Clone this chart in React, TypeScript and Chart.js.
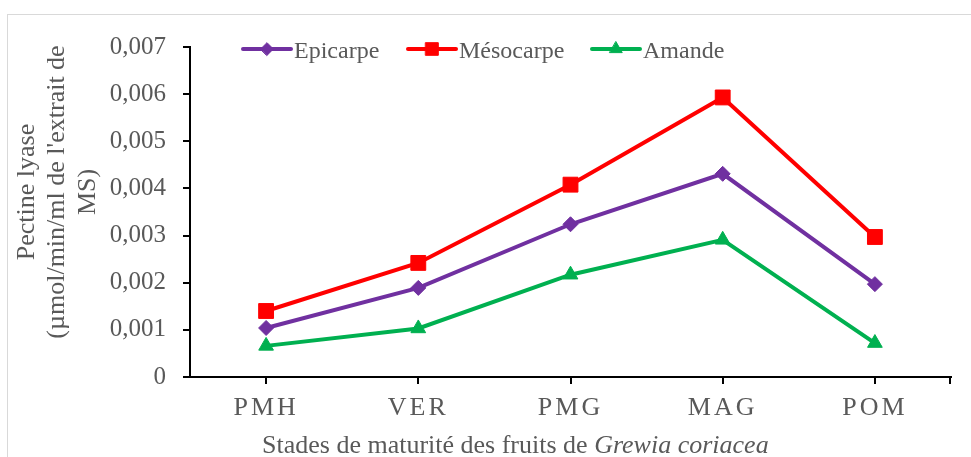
import React, { useEffect, useRef } from 'react';
import { Chart, registerables } from 'chart.js';
import { drawPoint } from 'chart.js/helpers';

Chart.register(...registerables);

const categories = ['PMH', 'VER', 'PMG', 'MAG', 'POM'];
const epicarpe = [0.00104, 0.00189, 0.00324, 0.00431, 0.00197];
const mesocarpe = [0.0014, 0.00242, 0.00408, 0.00593, 0.00297];
const amande = [0.00066, 0.00103, 0.00217, 0.00291, 0.00072];
const seriesNames = ['Epicarpe', 'Mésocarpe', 'Amande'];
const seriesColors = ['#7030A0', '#FF0000', '#00B050'];
const seriesStyles = ['rectRot', 'rect', 'triangle'];
const seriesRadii = [7.5, 10.5, 8.5];
const yTickLabels = ['0', '0,001', '0,002', '0,003', '0,004', '0,005', '0,006', '0,007'];
const yTitleLines = ['Pectine lyase', "(µmol/min/ml de l'extrait de", 'MS)'];
const xTitleNormal = 'Stades de maturité des fruits de ';
const xTitleItalic = 'Grewia coriacea';

const FONT = '"Liberation Serif", "Times New Roman", serif';
const TEXT = '#595959';

const decorPlugin = {
  id: 'decor',
  beforeDraw(chart: any) {
    chart.ctx.letterSpacing = '0px';
  },
  afterDatasetsDraw(chart: any) {
    chart.ctx.letterSpacing = '3px';
  },
  afterDraw(chart: any) {
    const ctx = chart.ctx;
    ctx.letterSpacing = '0px';
    ctx.save();
    const { right, bottom } = chart.chartArea;
    // end tick on x axis
    ctx.strokeStyle = '#000';
    ctx.lineWidth = 2;
    ctx.beginPath();
    ctx.moveTo(right - 1, bottom);
    ctx.lineTo(right - 1, bottom + 7);
    ctx.stroke();

    // legend
    const legendX = [243, 408, 592];
    const legendY = 49;
    ctx.font = `24px ${FONT}`;
    ctx.textBaseline = 'alphabetic';
    ctx.textAlign = 'left';
    seriesNames.forEach((name, i) => {
      const x0 = legendX[i];
      ctx.strokeStyle = seriesColors[i];
      ctx.lineWidth = 4;
      ctx.lineCap = 'round';
      ctx.beginPath();
      ctx.moveTo(x0, legendY);
      ctx.lineTo(x0 + 48, legendY);
      ctx.stroke();
      ctx.fillStyle = seriesColors[i];
      ctx.strokeStyle = seriesColors[i];
      ctx.lineWidth = 1;
      drawPoint(ctx, { pointStyle: seriesStyles[i], radius: seriesRadii[i] * 0.85, rotation: 0, borderWidth: 1 }, x0 + 24, legendY);
      ctx.fillStyle = TEXT;
      ctx.fillText(name, x0 + 51, 58);
    });

    // x title
    ctx.fillStyle = TEXT;
    ctx.font = `26px ${FONT}`;
    ctx.fillText(xTitleNormal, 262, 453);
    const w = ctx.measureText(xTitleNormal).width;
    ctx.font = `italic 26px ${FONT}`;
    ctx.fillText(xTitleItalic, 262 + w, 453);

    // y title
    ctx.font = `26px ${FONT}`;
    ctx.textAlign = 'center';
    ctx.textBaseline = 'middle';
    const xs = [27, 57, 88];
    yTitleLines.forEach((line, i) => {
      ctx.save();
      ctx.translate(xs[i], 192);
      ctx.rotate(-Math.PI / 2);
      ctx.fillText(line, 0, 0);
      ctx.restore();
    });
    ctx.restore();
    ctx.letterSpacing = '0px';
  },
};

export default function App() {
  const ref = useRef<HTMLCanvasElement | null>(null);
  useEffect(() => {
    if (!ref.current) return;
    const series = [epicarpe, mesocarpe, amande];
    const chart = new Chart(ref.current, {
      type: 'line',
      data: {
        labels: categories,
        datasets: series.map((d, i) => ({
          label: seriesNames[i],
          data: d,
          borderColor: seriesColors[i],
          backgroundColor: seriesColors[i],
          pointStyle: seriesStyles[i] as any,
          pointRadius: seriesRadii[i],
          pointHoverRadius: seriesRadii[i],
          pointBorderWidth: 1,
          borderWidth: 4,
          tension: 0,
          fill: false,
          clip: false as any,
        })),
      },
      options: {
        responsive: false,
        animation: false,
        devicePixelRatio: 1,
        layout: { padding: { left: 0, top: 47, right: 20, bottom: 0 } },
        plugins: {
          legend: { display: false },
          tooltip: { enabled: false },
          title: { display: false },
        },
        scales: {
          x: {
            type: 'category',
            offset: true,
            afterFit: (s: any) => { s.height = 80; },
            grid: {
              display: true,
              drawOnChartArea: false,
              drawTicks: true,
              tickLength: 7,
              color: '#000',
              lineWidth: 2,
              offset: false,
            },
            border: { display: true, color: '#000', width: 2 },
            ticks: {
              z: 1,
              color: TEXT,
              font: { family: FONT, size: 26 },
              padding: 9,
              maxRotation: 0,
              autoSkip: false,
            },
          },
          y: {
            min: 0,
            max: 0.007,
            afterFit: (s: any) => { s.width = 190; },
            grid: {
              display: true,
              drawOnChartArea: false,
              drawTicks: true,
              tickLength: 7,
              color: '#000',
              lineWidth: 2,
            },
            border: { display: true, color: '#000', width: 2 },
            ticks: {
              stepSize: 0.001,
              color: TEXT,
              font: { family: FONT, size: 25 },
              padding: 17,
              callback: (_v: any, i: number) => yTickLabels[i],
            },
          },
        },
      } as any,
      plugins: [decorPlugin],
    });
    return () => chart.destroy();
  }, []);

  return (
    <div style={{ position: 'absolute', left: 0, top: 0, width: 971, height: 457, background: '#fff', overflow: 'hidden' }}>
      <div style={{ position: 'absolute', left: 7, top: 14, width: 980, height: 460, borderTop: '1px solid #d9d9d9', borderLeft: '1px solid #d9d9d9' }} />
      <canvas ref={ref} width={971} height={457} style={{ position: 'absolute', left: 0, top: 0, width: 971, height: 457 }} />
    </div>
  );
}
